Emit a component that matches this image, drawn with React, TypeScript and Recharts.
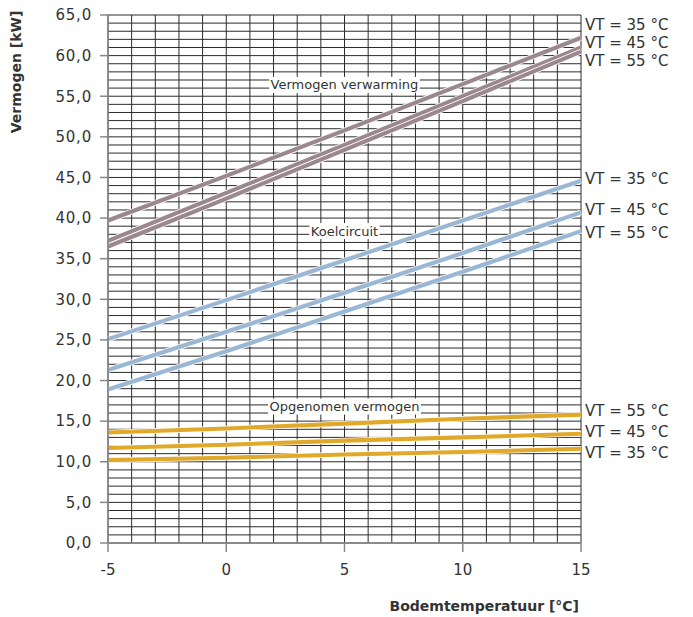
import React from "react";
import {
  LineChart,
  Line,
  XAxis,
  YAxis,
  CartesianGrid,
  ReferenceDot,
  Label,
} from "recharts";

// Bodemtemperatuur [°C]
const temps = [-5, 0, 5, 10, 15];

// Vermogen verwarming [kW]
const heat35 = [39.7, 45.2, 50.8, 56.5, 62.2];
const heat45 = [37.2, 43.1, 49.0, 55.0, 61.0];
const heat55 = [36.5, 42.4, 48.4, 54.4, 60.5];

// Koelcircuit [kW]
const cool35 = [25.1, 29.9, 34.8, 39.7, 44.6];
const cool45 = [21.3, 26.0, 30.8, 35.7, 40.7];
const cool55 = [18.9, 23.6, 28.5, 33.4, 38.4];

// Opgenomen vermogen [kW]
const pow55 = [13.6, 14.1, 14.7, 15.3, 15.8];
const pow45 = [11.7, 12.1, 12.6, 13.0, 13.45];
const pow35 = [10.2, 10.5, 10.9, 11.2, 11.6];

const xTicks = [-5, 0, 5, 10, 15];
const yTicks = [0, 5, 10, 15, 20, 25, 30, 35, 40, 45, 50, 55, 60, 65];

// right side labels (text, y value where label sits)
const heatLabels = ["VT = 35 °C", "VT = 45 °C", "VT = 55 °C"];
const heatLabelY = [63.8, 61.5, 59.3];
const coolLabels = ["VT = 35 °C", "VT = 45 °C", "VT = 55 °C"];
const coolLabelY = [44.8, 41.0, 38.2];
const powLabels = ["VT = 55 °C", "VT = 45 °C", "VT = 35 °C"];
const powLabelY = [16.2, 13.7, 11.1];

// in-plot annotations
const annotationText = ["Vermogen verwarming", "Koelcircuit", "Opgenomen vermogen"];
const annotationX = [5, 5, 5];
const annotationY = [56.4, 38.4, 16.8];

const HEAT = "#9b888e";
const COOL = "#9ab8d4";
const POW = "#e0a92a";
const FONT = "'DejaVu Sans', sans-serif";
const TEXT = "#333333";

const data = temps.map((t, i) => ({
  t,
  h35: heat35[i],
  h45: heat45[i],
  h55: heat55[i],
  c35: cool35[i],
  c45: cool45[i],
  c55: cool55[i],
  p55: pow55[i],
  p45: pow45[i],
  p35: pow35[i],
}));

const series = [
  { key: "h35", color: HEAT },
  { key: "h45", color: HEAT },
  { key: "h55", color: HEAT },
  { key: "c35", color: COOL },
  { key: "c45", color: COOL },
  { key: "c55", color: COOL },
  { key: "p55", color: POW },
  { key: "p45", color: POW },
  { key: "p35", color: POW },
];

const gridY = Array.from({ length: 66 }, (_, i) => i);
const gridX = Array.from({ length: 21 }, (_, i) => i - 5);

const fmt = (v: number) => v.toFixed(1).replace(".", ",");

let measureCtx: CanvasRenderingContext2D | null = null;
const measure = (txt: string, font: string) => {
  if (!measureCtx) {
    const c = document.createElement("canvas");
    measureCtx = c.getContext("2d");
  }
  if (!measureCtx) return txt.length * 7.5;
  measureCtx.font = font;
  return measureCtx.measureText(txt).width;
};

const hGen = (props: any) => {
  const { yAxis, offset } = props;
  if (yAxis && typeof yAxis.scale === "function") {
    return gridY.map((v) => yAxis.scale(v));
  }
  return gridY.map((v) => offset.top + (offset.height * (65 - v)) / 65);
};
const vGen = (props: any) => {
  const { xAxis, offset } = props;
  if (xAxis && typeof xAxis.scale === "function") {
    return gridX.map((v) => xAxis.scale(v));
  }
  return gridX.map((v) => offset.left + (offset.width * (v + 5)) / 20);
};

const sideLabel = (txt: string) => (props: any) => (
  <text
    x={props.cx + 4}
    y={props.cy}
    dominantBaseline="central"
    fontFamily={FONT}
    fontSize={15}
    fill={TEXT}
  >
    {txt}
  </text>
);

const boxLabel = (txt: string) => (props: any) => {
  const w = measure(txt, `13px 'DejaVu Sans'`) + 3;
  return (
    <g>
      <rect x={props.cx - w / 2} y={props.cy - 8} width={w} height={16} fill="#fff" />
      <text
        x={props.cx}
        y={props.cy}
        textAnchor="middle"
        dominantBaseline="central"
        fontFamily={FONT}
        fontSize={13}
        fill={TEXT}
      >
        {txt}
      </text>
    </g>
  );
};

export default function App() {
  return (
    <div style={{ position: "absolute", left: 0, top: 0, background: "#fff" }}>
      <LineChart
        width={693}
        height={617}
        data={data}
        margin={{ top: 15, right: 112, left: 0, bottom: 34 }}
      >
        <CartesianGrid
          stroke="#2a2a2a"
          strokeWidth={1}
          horizontalCoordinatesGenerator={hGen}
          verticalCoordinatesGenerator={vGen}
        />
        <XAxis
          dataKey="t"
          type="number"
          domain={[-5, 15]}
          ticks={xTicks}
          height={40}
          tickSize={9}
          tickMargin={12}
          stroke="#888"
          strokeWidth={1.5}
          tick={{ fill: TEXT, fontSize: 15, fontFamily: FONT }}
        >
          <Label
            content={(p: any) => (
              <text
                x={p.viewBox.x + p.viewBox.width - 2}
                y={611}
                textAnchor="end"
                fontFamily={FONT}
                fontWeight="bold"
                fontSize={14}
                fill={TEXT}
              >
                Bodemtemperatuur [°C]
              </text>
            )}
          />
        </XAxis>
        <YAxis
          type="number"
          domain={[0, 65]}
          ticks={yTicks}
          width={108}
          tickSize={8}
          tickMargin={8}
          stroke="#888"
          strokeWidth={1.5}
          tickFormatter={fmt}
          tick={{ fill: TEXT, fontSize: 15, fontFamily: FONT, letterSpacing: 0.8 }}
        >
          <Label
            content={() => (
              <text
                x={0}
                y={0}
                transform="translate(21,72) rotate(-90)"
                textAnchor="middle"
                fontFamily={FONT}
                fontWeight="bold"
                fontSize={14}
                fill={TEXT}
              >
                Vermogen [kW]
              </text>
            )}
          />
        </YAxis>
        {series.flatMap((s) => [
          <Line
            key={s.key + "-w"}
            dataKey={s.key}
            stroke="#ffffff"
            strokeWidth={5.6}
            dot={false}
            activeDot={false}
            isAnimationActive={false}
          />,
          <Line
            key={s.key}
            dataKey={s.key}
            stroke={s.color}
            strokeWidth={4.1}
            dot={false}
            activeDot={false}
            isAnimationActive={false}
          />,
        ])}
        {annotationText.map((txt, i) => (
          <ReferenceDot
            key={"a" + i}
            x={annotationX[i]}
            y={annotationY[i]}
            r={0}
            ifOverflow="visible"
            shape={boxLabel(txt)}
          />
        ))}
        {heatLabels.map((txt, i) => (
          <ReferenceDot key={"hl" + i} x={15} y={heatLabelY[i]} r={0} ifOverflow="visible" shape={sideLabel(txt)} />
        ))}
        {coolLabels.map((txt, i) => (
          <ReferenceDot key={"cl" + i} x={15} y={coolLabelY[i]} r={0} ifOverflow="visible" shape={sideLabel(txt)} />
        ))}
        {powLabels.map((txt, i) => (
          <ReferenceDot key={"pl" + i} x={15} y={powLabelY[i]} r={0} ifOverflow="visible" shape={sideLabel(txt)} />
        ))}
      </LineChart>
    </div>
  );
}
